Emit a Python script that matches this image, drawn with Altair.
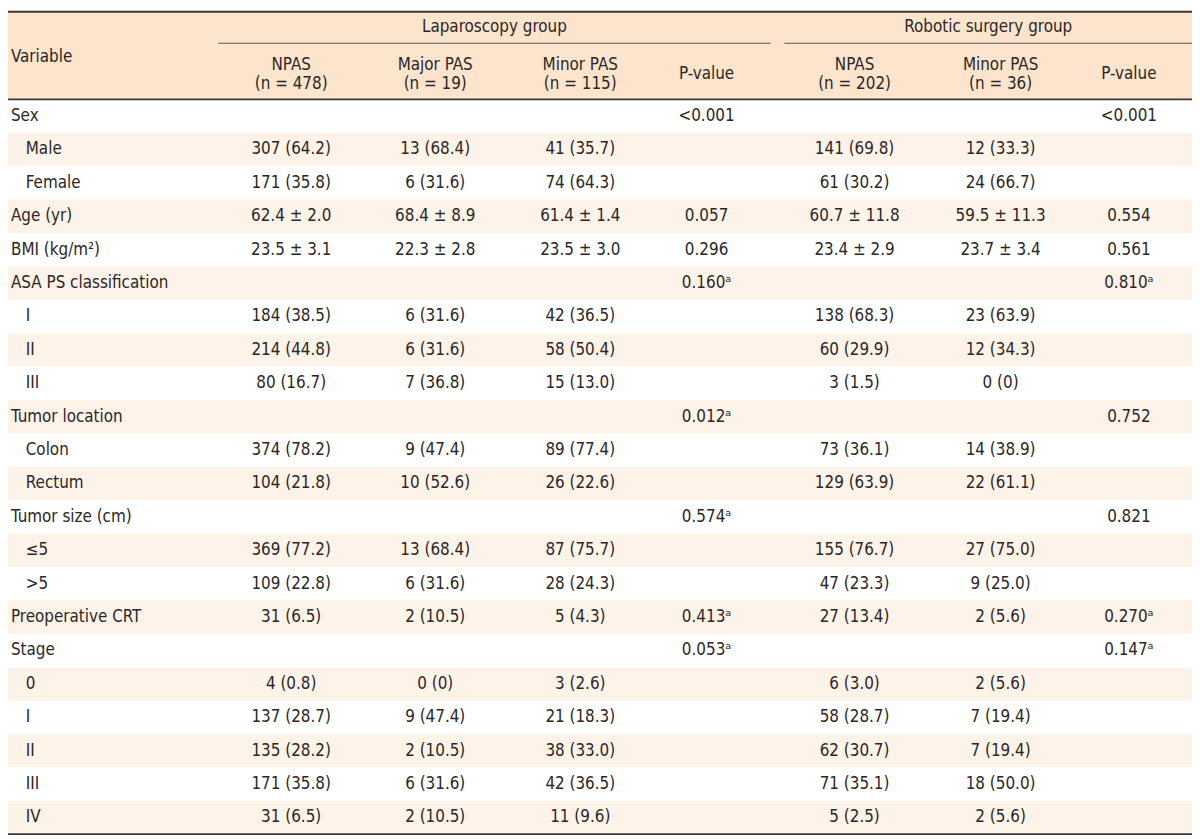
import altair as alt
import pandas as pd

# ---------------- data ----------------
variables = ["Sex", "Male", "Female", "Age (yr)", "BMI (kg/m²)", "ASA PS classification",
             "I", "II", "III", "Tumor location", "Colon", "Rectum", "Tumor size (cm)",
             "≤5", ">5", "Preoperative CRT", "Stage", "0", "I", "II", "III", "IV"]
indented = [False, True, True, False, False, False, True, True, True, False, True, True,
            False, True, True, False, False, True, True, True, True, True]

lap_npas = ["", "307 (64.2)", "171 (35.8)", "62.4 ± 2.0", "23.5 ± 3.1", "", "184 (38.5)",
            "214 (44.8)", "80 (16.7)", "", "374 (78.2)", "104 (21.8)", "", "369 (77.2)",
            "109 (22.8)", "31 (6.5)", "", "4 (0.8)", "137 (28.7)", "135 (28.2)",
            "171 (35.8)", "31 (6.5)"]
lap_major = ["", "13 (68.4)", "6 (31.6)", "68.4 ± 8.9", "22.3 ± 2.8", "", "6 (31.6)",
             "6 (31.6)", "7 (36.8)", "", "9 (47.4)", "10 (52.6)", "", "13 (68.4)",
             "6 (31.6)", "2 (10.5)", "", "0 (0)", "9 (47.4)", "2 (10.5)", "6 (31.6)",
             "2 (10.5)"]
lap_minor = ["", "41 (35.7)", "74 (64.3)", "61.4 ± 1.4", "23.5 ± 3.0", "", "42 (36.5)",
             "58 (50.4)", "15 (13.0)", "", "89 (77.4)", "26 (22.6)", "", "87 (75.7)",
             "28 (24.3)", "5 (4.3)", "", "3 (2.6)", "21 (18.3)", "38 (33.0)", "42 (36.5)",
             "11 (9.6)"]
lap_p = ["<0.001", "", "", "0.057", "0.296", "0.160ᵃ", "", "", "", "0.012ᵃ", "", "",
         "0.574ᵃ", "", "", "0.413ᵃ", "0.053ᵃ", "", "", "", "", ""]
rob_npas = ["", "141 (69.8)", "61 (30.2)", "60.7 ± 11.8", "23.4 ± 2.9", "", "138 (68.3)",
            "60 (29.9)", "3 (1.5)", "", "73 (36.1)", "129 (63.9)", "", "155 (76.7)",
            "47 (23.3)", "27 (13.4)", "", "6 (3.0)", "58 (28.7)", "62 (30.7)",
            "71 (35.1)", "5 (2.5)"]
rob_minor = ["", "12 (33.3)", "24 (66.7)", "59.5 ± 11.3", "23.7 ± 3.4", "", "23 (63.9)",
             "12 (34.3)", "0 (0)", "", "14 (38.9)", "22 (61.1)", "", "27 (75.0)",
             "9 (25.0)", "2 (5.6)", "", "2 (5.6)", "7 (19.4)", "7 (19.4)", "18 (50.0)",
             "2 (5.6)"]
rob_p = ["<0.001", "", "", "0.554", "0.561", "0.810ᵃ", "", "", "", "0.752", "", "",
         "0.821", "", "", "0.270ᵃ", "0.147ᵃ", "", "", "", "", ""]

group_titles = ["Laparoscopy group", "Robotic surgery group"]
sub_line1 = ["NPAS", "Major PAS", "Minor PAS", "P-value", "NPAS", "Minor PAS", "P-value"]
sub_line2 = ["(n = 478)", "(n = 19)", "(n = 115)", "", "(n = 202)", "(n = 36)", ""]
first_header = "Variable"

# ---------------- layout (reference pixel space) ----------------
W, H = 1200, 839
OUT_W, OUT_H = 1192, 831
col_x = [287, 433, 580, 708, 858, 1006, 1136]
group_span = [(213, 773), (787, 1200)]
header_bottom = 90
row_h = 33.95
FONT = "DejaVu Sans Condensed, Roboto, sans-serif"
TXT = "#2b2727"
FS = 17

xs = alt.Scale(domain=[0, W], range=[0, OUT_W])
ys = alt.Scale(domain=[0, H], range=[0, OUT_H])
X = lambda f: alt.X(f, type="quantitative", scale=xs, axis=None)
Y = lambda f: alt.Y(f, type="quantitative", scale=ys, axis=None)

# backgrounds
bg_rows = [{"x": 0, "x2": W, "y": 0, "y2": header_bottom, "c": "#fce4cd"}]
for i in range(len(variables)):
    if i % 2 == 1:
        bg_rows.append({"x": 0, "x2": W, "y": header_bottom + i * row_h,
                        "y2": header_bottom + (i + 1) * row_h, "c": "#fef3e8"})
bg = alt.Chart(pd.DataFrame(bg_rows)).mark_rect().encode(
    x=X("x"), x2="x2", y=Y("y"), y2="y2",
    color=alt.Color("c:N", scale=None))

# rules
rules_df = pd.DataFrame([
    {"x": 0, "x2": W, "y": 1, "w": 2.0, "c": "#3a3a3a"},
    {"x": 0, "x2": W, "y": header_bottom, "w": 1.8, "c": "#3a3a3a"},
    {"x": group_span[0][0], "x2": group_span[0][1], "y": 33, "w": 1.2, "c": "#5a5a5a"},
    {"x": group_span[1][0], "x2": group_span[1][1], "y": 33, "w": 1.2, "c": "#5a5a5a"},
    {"x": 0, "x2": W, "y": header_bottom + len(variables) * row_h, "w": 1.8, "c": "#3a3a3a"},
])
rules = alt.Chart(rules_df).mark_rule().encode(
    x=X("x"), x2="x2", y=Y("y"),
    strokeWidth=alt.StrokeWidth("w:Q", scale=None),
    color=alt.Color("c:N", scale=None))

# header texts
hdr = []
for t, (a, b) in zip(group_titles, group_span):
    hdr.append({"x": (a + b) / 2, "y": 17, "t": t})
for i, (l1, l2) in enumerate(zip(sub_line1, sub_line2)):
    if l2:
        hdr.append({"x": col_x[i], "y": 55, "t": l1})
        hdr.append({"x": col_x[i], "y": 74, "t": l2})
    else:
        hdr.append({"x": col_x[i], "y": 64, "t": l1})
hdr_text = alt.Chart(pd.DataFrame(hdr)).mark_text(
    font=FONT, fontSize=FS, color=TXT, align="center", baseline="middle").encode(
    x=X("x"), y=Y("y"), text="t:N")

var_hdr = alt.Chart(pd.DataFrame([{"x": 3, "y": 47, "t": first_header}])).mark_text(
    font=FONT, fontSize=FS, color=TXT, align="left", baseline="middle").encode(
    x=X("x"), y=Y("y"), text="t:N")

# body
labels = []
cells = []
columns = [lap_npas, lap_major, lap_minor, lap_p, rob_npas, rob_minor, rob_p]
for i, v in enumerate(variables):
    yc = header_bottom + (i + 0.5) * row_h
    labels.append({"x": 18 if indented[i] else 3, "y": yc, "t": v})
    for j, col in enumerate(columns):
        if col[i]:
            cells.append({"x": col_x[j], "y": yc, "t": col[i]})

lab_text = alt.Chart(pd.DataFrame(labels)).mark_text(
    font=FONT, fontSize=FS, color=TXT, align="left", baseline="middle").encode(
    x=X("x"), y=Y("y"), text="t:N")
cell_text = alt.Chart(pd.DataFrame(cells)).mark_text(
    font=FONT, fontSize=FS, color=TXT, align="center", baseline="middle").encode(
    x=X("x"), y=Y("y"), text="t:N")

chart = alt.layer(bg, rules, hdr_text, var_hdr, lab_text, cell_text).properties(
    width=OUT_W, height=OUT_H, padding=0,
    autosize=alt.AutoSizeParams(type="none"),
).configure_view(stroke=None)

chart.save("out.html", embed_options={"renderer": "svg", "actions": False})
